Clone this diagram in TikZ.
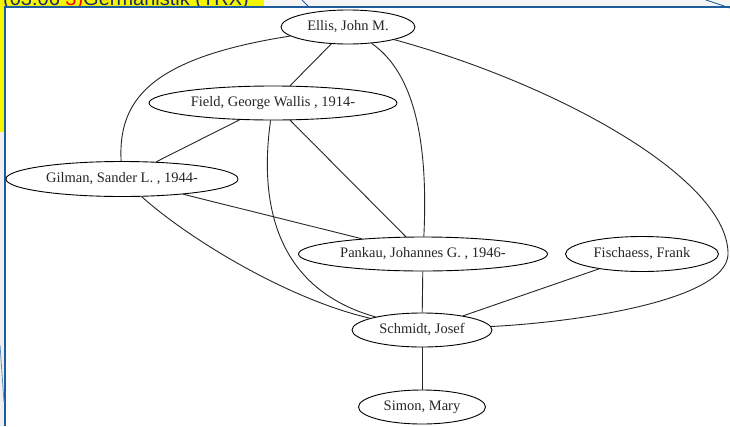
\documentclass[tikz,border=0pt]{standalone}
\usepackage{fontspec}
\setmainfont{Liberation Serif}
\setsansfont{Liberation Sans}
\usetikzlibrary{shapes.geometric}
\definecolor{framebl}{HTML}{1F5C9E}
\definecolor{navy}{HTML}{1A2A70}
\definecolor{hiyel}{HTML}{F5F500}
\begin{document}
\begin{tikzpicture}[x=1pt,y=-1pt,
  person/.style={draw, ellipse, inner sep=0pt, line width=0.9pt, font=\fontsize{14.5}{16}\selectfont, text=black!85},
  link/.style={line width=0.9pt, black!85}]
\useasboundingbox (0,0) rectangle (730,426);
\fill[white] (0,0) rectangle (730,426);
% screenshot remnants
\fill[hiyel] (0,0) rectangle (264,7);
\fill[hiyel] (0,0) rectangle (5,132);
\fill[black!6] (0,132) rectangle (5,426);
\fill[black!4] (264,0) rectangle (730,7);
\begin{scope}
\clip (0,0) rectangle (264,7);
\node[anchor=base west, inner sep=0pt, font=\sffamily\fontsize{20}{20}\selectfont, text=navy] (hdr) at (3,5) {(03.06 \textcolor{red}{3)}Germanistik (TRX)};
\end{scope}
\draw[framebl, line width=1.5pt] (5,426) -- (5,7) -- (730,7);
\draw[framebl, line width=0.8pt] (302,0) -- (309,7);
\draw[framebl, line width=0.8pt] (706,0) -- (730,8);
\draw[framebl!70, line width=0.8pt] (0,345) -- (4,402);

% nodes
\node[person, minimum width=134pt, minimum height=34pt] (ellis) at (348,27) {Ellis, John M.};
\node[person, minimum width=248pt, minimum height=34pt] (field) at (273,103) {Field, George Wallis , 1914-};
\node[person, minimum width=232pt, minimum height=35pt] (gilman) at (122,179) {Gilman, Sander L. , 1944-};
\node[person, minimum width=249pt, minimum height=34pt] (pankau) at (423,254) {Pankau, Johannes G. , 1946-};
\node[person, minimum width=153pt, minimum height=35pt] (fisch) at (642,254) {Fischaess, Frank};
\node[person, minimum width=140pt, minimum height=34pt] (schmidt) at (422,330) {Schmidt, Josef};
\node[person, minimum width=127pt, minimum height=34pt] (simon) at (422,407) {Simon, Mary};

% edges
\draw[link] (ellis) -- (field);
\draw[link] (ellis) .. controls (150,58) and (118,100) .. (gilman);
\draw[link] (ellis) .. controls (410,70) and (429,130) .. (pankau);
\draw[link] (ellis) .. controls (560,85) and (730,180) .. (728,255)
  .. controls (725,300) and (580,322) .. (schmidt);
\draw[link] (field) -- (gilman);
\draw[link] (field) -- (pankau);
\draw[link] (field) .. controls (258,210) and (280,290) .. (schmidt);
\draw[link] (gilman) -- (pankau);
\draw[link] (gilman) .. controls (190,240) and (290,300) .. (schmidt);
\draw[link] (pankau) -- (schmidt);
\draw[link] (fisch) -- (schmidt);
\draw[link] (schmidt) -- (simon);
\end{tikzpicture}
\end{document}
